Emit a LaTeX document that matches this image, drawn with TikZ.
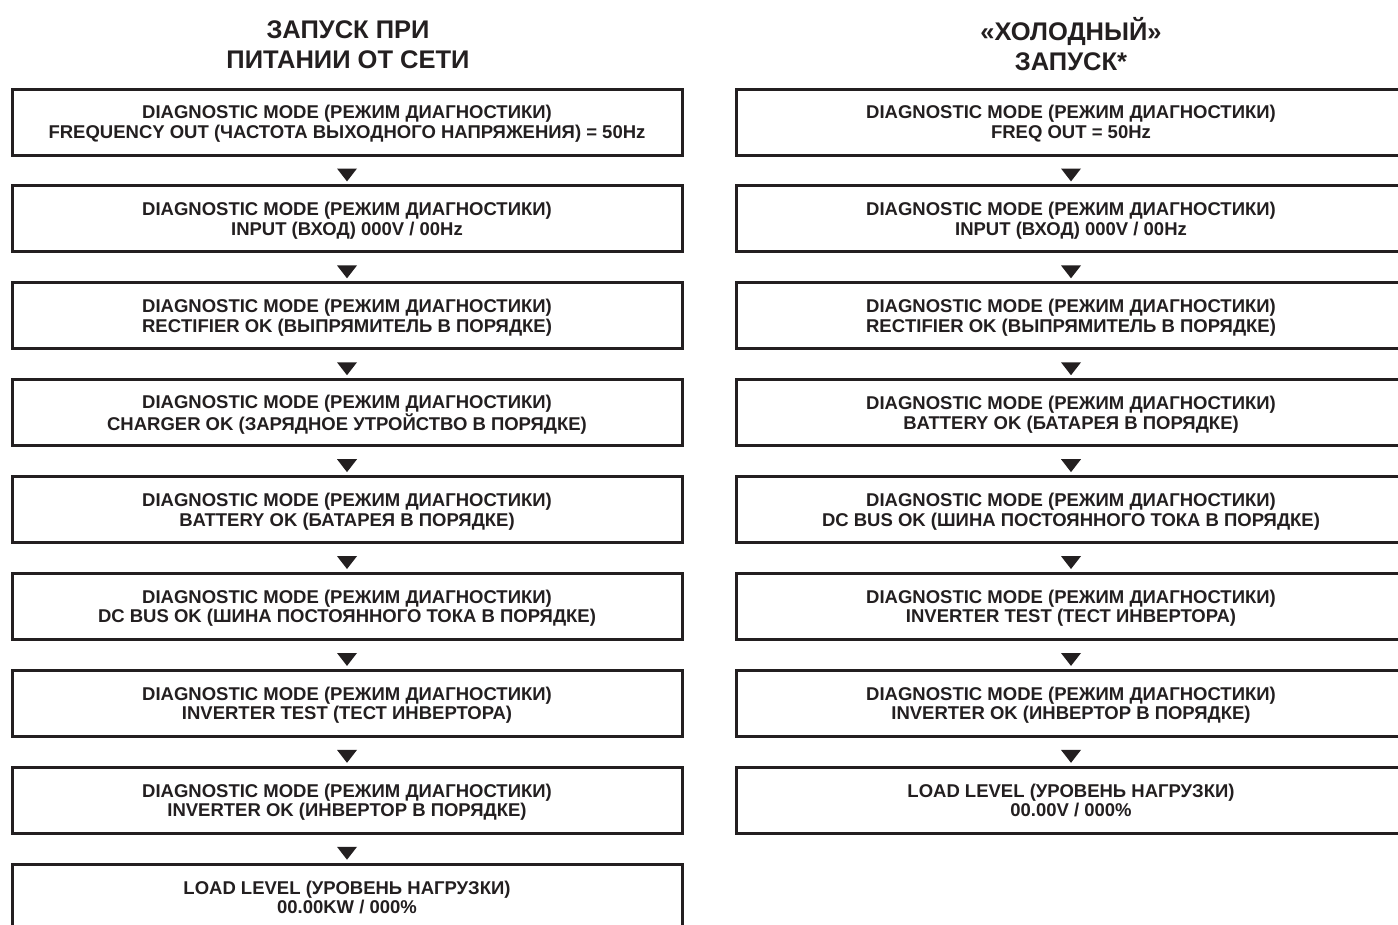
\documentclass[tikz,border=0pt]{standalone}
\usepackage{fontspec}
\setmainfont{Liberation Sans}
\usetikzlibrary{calc}
\definecolor{ink}{RGB}{35,31,32}
\tikzset{
  box/.style={draw=ink, line width=3pt, minimum width=670pt, minimum height=66pt,
    inner sep=0pt, align=center, text=ink, text depth=0pt,
    font=\bfseries\fontsize{18.5}{19.5}\selectfont},
  ttl/.style={align=center, text=ink, inner sep=0pt, font=\bfseries\fontsize{25.5}{30}\selectfont},
  tri/.style={fill=ink, draw=none}
}
\newcommand{\dm}{DIAGNOSTIC MODE (РЕЖИМ ДИАГНОСТИКИ)\\}
\newcommand{\tridown}[2]{\fill[tri] ($(#1.south)+(-10pt,-12pt)$) -- ($(#1.south)+(10pt,-12pt)$) -- ($(#2.north)+(0pt,3pt)$) -- cycle;}
\begin{document}
\begin{tikzpicture}[x=1pt,y=1pt]
\useasboundingbox (0,0) rectangle (1398,-924);
\fill[white] (0,0) rectangle (1398,-924);
% titles
\node[ttl] (tl) at (348,-44.5) {ЗАПУСК ПРИ\\ПИТАНИИ ОТ СЕТИ};
\node[ttl] (tr) at (1071,-44.5) {«ХОЛОДНЫЙ»\\ЗАПУСК*};
% left column
\node[box] (L1) at (347,-122) {\dm FREQUENCY OUT (ЧАСТОТА ВЫХОДНОГО НАПРЯЖЕНИЯ) = 50Hz};
\node[box] (L2) at (347,-218.9) {\dm INPUT (ВХОД) 000V / 00Hz};
\node[box] (L3) at (347,-315.8) {\dm RECTIFIER OK (ВЫПРЯМИТЕЛЬ В ПОРЯДКЕ)};
\node[box] (L4) at (347,-412.7) {\dm CHARGER OK (ЗАРЯДНОЕ УТРОЙСТВО В ПОРЯДКЕ)};
\node[box] (L5) at (347,-509.6) {\dm BATTERY OK (БАТАРЕЯ В ПОРЯДКЕ)};
\node[box] (L6) at (347,-606.5) {\dm DC BUS OK (ШИНА ПОСТОЯННОГО ТОКА В ПОРЯДКЕ)};
\node[box] (L7) at (347,-703.4) {\dm INVERTER TEST (ТЕСТ ИНВЕРТОРА)};
\node[box] (L8) at (347,-800.3) {\dm INVERTER OK (ИНВЕРТОР В ПОРЯДКЕ)};
\node[box] (L9) at (347,-897.2) {LOAD LEVEL (УРОВЕНЬ НАГРУЗКИ)\\00.00KW / 000\%};
% right column
\node[box] (R1) at (1071,-122) {\dm FREQ OUT = 50Hz};
\node[box] (R2) at (1071,-218.9) {\dm INPUT (ВХОД) 000V / 00Hz};
\node[box] (R3) at (1071,-315.8) {\dm RECTIFIER OK (ВЫПРЯМИТЕЛЬ В ПОРЯДКЕ)};
\node[box] (R4) at (1071,-412.7) {\dm BATTERY OK (БАТАРЕЯ В ПОРЯДКЕ)};
\node[box] (R5) at (1071,-509.6) {\dm DC BUS OK (ШИНА ПОСТОЯННОГО ТОКА В ПОРЯДКЕ)};
\node[box] (R6) at (1071,-606.5) {\dm INVERTER TEST (ТЕСТ ИНВЕРТОРА)};
\node[box] (R7) at (1071,-703.4) {\dm INVERTER OK (ИНВЕРТОР В ПОРЯДКЕ)};
\node[box] (R8) at (1071,-800.3) {LOAD LEVEL (УРОВЕНЬ НАГРУЗКИ)\\00.00V / 000\%};
% arrows
\tridown{L1}{L2}\tridown{L2}{L3}\tridown{L3}{L4}\tridown{L4}{L5}
\tridown{L5}{L6}\tridown{L6}{L7}\tridown{L7}{L8}\tridown{L8}{L9}
\tridown{R1}{R2}\tridown{R2}{R3}\tridown{R3}{R4}\tridown{R4}{R5}
\tridown{R5}{R6}\tridown{R6}{R7}\tridown{R7}{R8}
\end{tikzpicture}
\end{document}
